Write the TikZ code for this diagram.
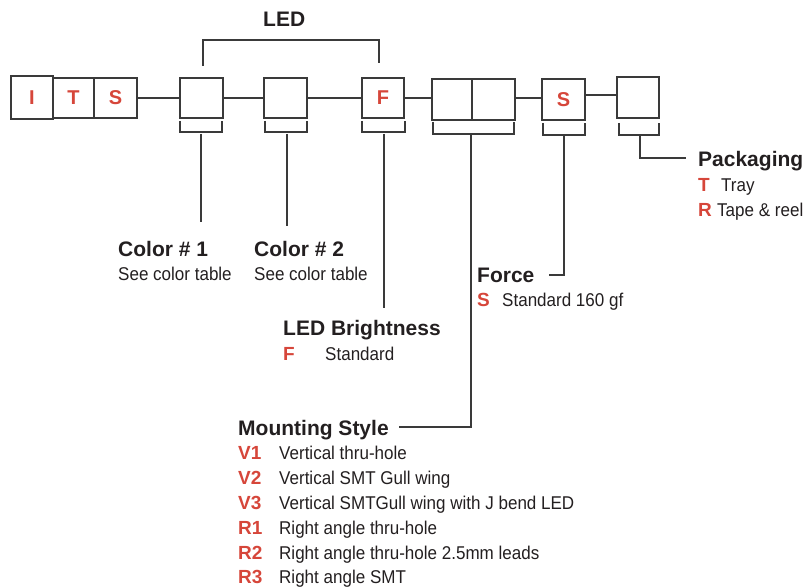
\documentclass[tikz,border=0pt]{standalone}
\usepackage{fontspec}
\setmainfont{Liberation Sans}
\newfontfamily\descfont[FakeStretch=0.92]{Liberation Sans}
\definecolor{cred}{HTML}{D6463A}
\definecolor{ctext}{HTML}{231F20}
\definecolor{cline}{HTML}{3A3A3A}
\tikzset{
  box/.style={draw=cline, line width=1.2pt, minimum width=42pt, minimum height=40pt, inner sep=0pt, text=cred, font=\fontsize{20}{20}\selectfont\bfseries},
  lead/.style={draw=cline, line width=1.2pt},
  title/.style={anchor=base west, inner sep=0pt, text=ctext, font=\fontsize{21}{21}\selectfont\bfseries},
  code/.style={anchor=base west, inner sep=0pt, text=cred, font=\fontsize{19}{19}\selectfont\bfseries},
  desc/.style={anchor=base west, inner sep=0pt, text=ctext, font=\fontsize{18.5}{18.5}\descfont},
}
\begin{document}
\begin{tikzpicture}[x=1pt,y=-1pt]
\useasboundingbox (0,0) rectangle (803,588);
% boxes
\node[box, minimum width=42pt, minimum height=43pt] (bI) at (32,97.5) {I};
\node[box, minimum width=41pt] (bT) at (73.5,98) {T};
\node[box, minimum width=43pt] (bS) at (115.5,98) {S};
\node[box, minimum width=43pt] (c1) at (201.5,98) {};
\node[box, minimum width=43pt] (c2) at (285.5,98) {};
\node[box, minimum width=42pt] (bF) at (383,98) {F};
\node[box, minimum width=40pt, minimum height=41pt] (m1) at (452,99.5) {};
\node[box, minimum width=43pt, minimum height=41pt] (m2) at (493.5,99.5) {};
\node[box, minimum width=43pt, minimum height=41pt] (fS) at (563.5,99.5) {S};
\node[box, minimum width=42pt, minimum height=41pt] (pk) at (638,97.5) {};
% joining lines
\draw[lead] (bS.east) -- (c1.west);
\draw[lead] (c1.east) -- (c2.west);
\draw[lead] (c2.east) -- (bF.west);
\draw[lead] (bF.east) -- (m1.west |- bF.east);
\draw[lead] (m2.east |- 0,98) -- (fS.west |- 0,98);
\draw[lead] (fS.east |- 0,95) -- (pk.west |- 0,95);
% LED bracket
\node[title] (led) at (263,27) {LED};
\coordinate (la) at (203,66);
\coordinate (lb) at (379,63);
\draw[lead] (la) -- (203,40) -- (379,40) -- (lb);
% brackets under boxes
\draw[lead] (180,121) -- (180,132) -- (222,132) -- (222,121);
\draw[lead] (265,121) -- (265,132) -- (307,132) -- (307,121);
\draw[lead] (362,121) -- (362,132) -- (405,132) -- (405,121);
\draw[lead] (433,122) -- (433,134) -- (514,134) -- (514,122);
\draw[lead] (543,123) -- (543,135) -- (585,135) -- (585,123);
\draw[lead] (619,123) -- (619,135) -- (659,135) -- (659,123);
% labels
\node[title] (col1) at (118,256) {Color \# 1};
\node[desc] (col1d) at (118,280) {See color table};
\node[title] (col2) at (254,256) {Color \# 2};
\node[desc] (col2d) at (254,280) {See color table};
\node[title] (bri) at (283,335.5) {LED Brightness};
\node[code] (briF) at (283,360) {F};
\node[desc] (briS) at (325,360) {Standard};
\node[title] (frc) at (477,282) {Force};
\node[code] (frcS) at (477,306.5) {S};
\node[desc] (frcD) at (502,306.5) {Standard 160 gf};
\node[title] (pkg) at (698,167) {Packaging};
\node[code] (pkT) at (698,191.5) {T};
\node[desc] (pkTd) at (721,191.5) {Tray};
\node[code] (pkR) at (698,217) {R};
\node[desc] (pkRd) at (717,217) {Tape \& reel};
\node[title] (mnt) at (238,435) {Mounting Style};
\foreach \c/\t [count=\i] in {V1/Vertical thru-hole, V2/Vertical SMT Gull wing, V3/Vertical SMTGull wing with J bend LED, R1/Right angle thru-hole, R2/Right angle thru-hole 2.5mm leads, R3/Right angle SMT}{
  \node[code] (mc\i) at (238,{435+24.8*\i}) {\c};
  \node[desc] (md\i) at (279,{435+24.8*\i}) {\t};
}
% leaders
\coordinate (e1) at (201,222);
\coordinate (e2) at (287,226);
\coordinate (e3) at (384,308);
\draw[lead] (201,134) -- (e1);
\draw[lead] (287,134) -- (e2);
\draw[lead] (384,134) -- (e3);
\coordinate (e4) at (399,427);
\draw[lead] (471,134) -- (471,427) -- (e4);
\coordinate (e5) at (549,275);
\draw[lead] (564,136) -- (564,275) -- (e5);
\coordinate (e6) at (686,158);
\draw[lead] (640,135) -- (640,158) -- (e6);
\end{tikzpicture}
\end{document}
